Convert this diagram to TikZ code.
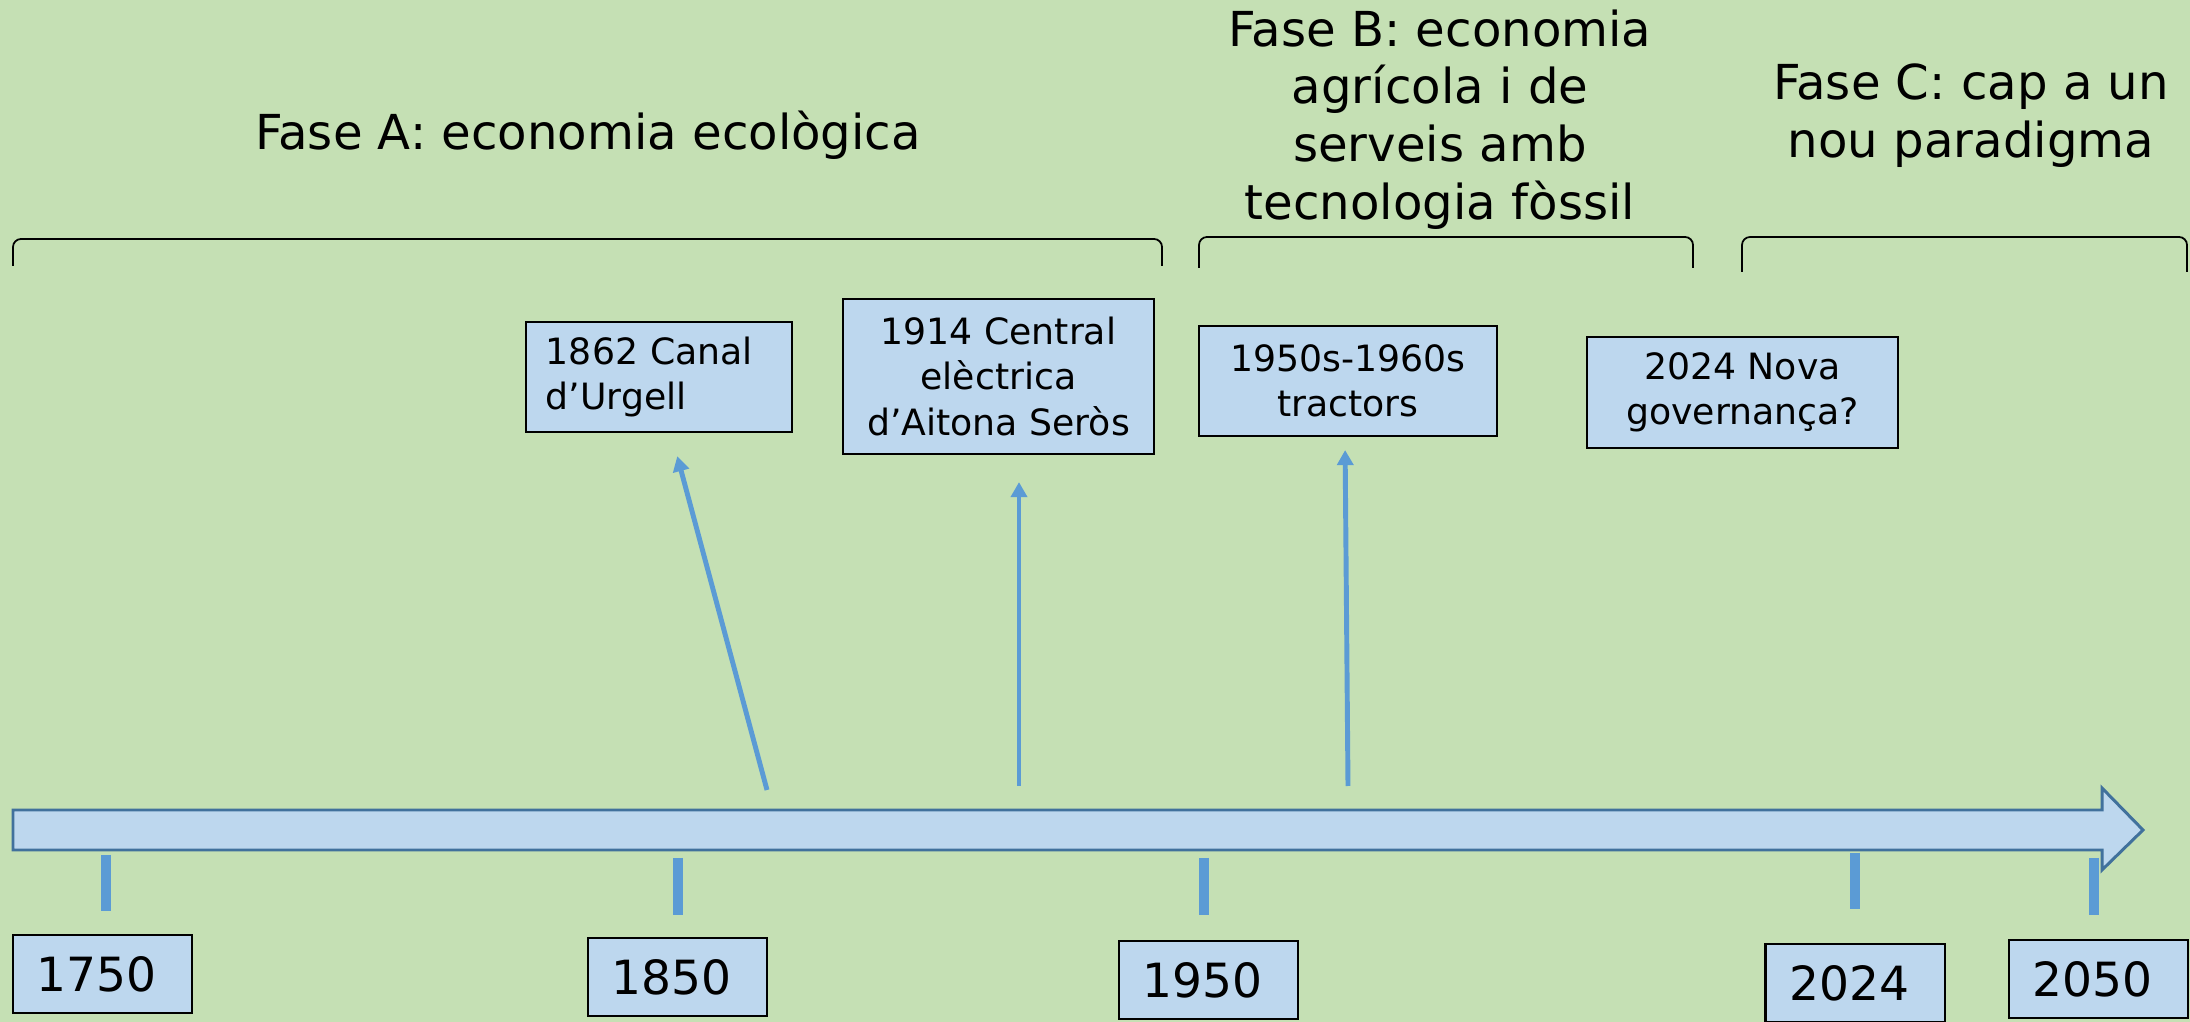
\documentclass[tikz,border=0pt]{standalone}
\usepackage{fontspec}
\setmainfont{DejaVu Sans}
\usepackage{xcolor}
\usetikzlibrary{arrows.meta,calc}
\definecolor{bggreen}{HTML}{C5E0B4}
\definecolor{boxblue}{HTML}{BDD7EE}
\definecolor{lineblue}{HTML}{5B9BD5}
\definecolor{edgeblue}{HTML}{41719C}
\newcommand{\bigtxt}{\fontsize{13.4pt}{16.3pt}\selectfont}
\newcommand{\phasetxt}{\fontsize{13.7pt}{16.4pt}\selectfont}
\newcommand{\smalltxt}{\fontsize{10.3pt}{12.8pt}\selectfont}

\begin{document}
\begin{tikzpicture}[x=0.01cm, y=-0.01cm,
  box/.style={draw, line width=0.6pt, fill=boxblue, inner sep=0pt, align=center},
  yearbox/.style={box, font=\bigtxt, minimum width=1.79cm, minimum height=0.78cm,
                  text width=1.31cm, align=left},
  eventbox/.style={box, font=\smalltxt},
  phase/.style={font=\phasetxt, inner sep=0pt, align=center},
  phasebrace/.style={line width=0.5pt, rounded corners=0.08cm},
  arr/.style={-{Triangle[length=0.15cm, width=0.16cm]}, line width=1.4pt, lineblue},
  yeartick/.style={line width=2.85pt, lineblue}]
\useasboundingbox (0,0) rectangle (2190,1022);
\fill[bggreen] (0,0) rectangle (2190,1022);
\node[phase, anchor=base] (faseA) at (588,150) {Fase A: economia ecològica};
\node[phase, anchor=north] (faseB) at (1440,9)
  {Fase B: economia\\agrícola i de\\serveis amb\\tecnologia fòssil};
\node[phase, anchor=north] (faseC) at (1971,63) {Fase C: cap a un\\nou paradigma};
\draw[phasebrace] (13,266) -- (13,239) -- (1162,239) -- (1162,266);
\draw[phasebrace] (1199,268) -- (1199,237) -- (1693,237) -- (1693,268);
\draw[phasebrace] (1742,272) -- (1742,237) -- (2187,237) -- (2187,272);
\node[eventbox, minimum width=2.66cm, minimum height=1.10cm, text width=2.26cm,
      align=left] (e1862) at (659,377) {1862 Canal\\d’Urgell};
\node[eventbox, minimum width=3.11cm, minimum height=1.55cm] (e1914) at (998.5,376.5)
  {1914 Central\\elèctrica\\d’Aitona Seròs};
\node[eventbox, minimum width=2.98cm, minimum height=1.10cm] (e1950s) at (1348,381)
  {1950s-1960s\\tractors};
\node[eventbox, minimum width=3.11cm, minimum height=1.11cm] (e2024) at (1742.5,392.5)
  {2024 Nova\\governança?};
\draw[edgeblue, fill=boxblue, line width=0.85pt, line join=miter]
  (13,810) -- (2102,810) -- (2102,788) -- (2143,830) -- (2102,870)
  -- (2102,850) -- (13,850) -- cycle;
\foreach \x/\t/\b in {106/855/911, 678/858/915, 1204/858/915, 1855/853/909, 2094/858/915}
  \draw[yeartick] (\x,\t) -- (\x,\b);
\node[yearbox] (y1750) at (102.5,974) {1750};
\node[yearbox] (y1850) at (677.5,977) {1850};
\node[yearbox] (y1950) at (1208.5,980) {1950};
\node[yearbox] (y2024) at (1855,983) {2024};
\node[yearbox] (y2050) at (2098.5,979) {2050};
\coordinate (t1862) at (767,790);
\coordinate (t1914) at (1019,786);
\coordinate (t1950s) at (1348,786);
\draw[arr, shorten >=0.24cm] (t1862) -- ($(e1862.south)+(12,0)$);
\draw[arr, shorten >=0.27cm] (t1914) -- ($(e1914.south)+(20.5,0)$);
\draw[arr, shorten >=0.13cm] (t1950s) -- ($(e1950s.south)+(-3,0)$);
\end{tikzpicture}
\end{document}
